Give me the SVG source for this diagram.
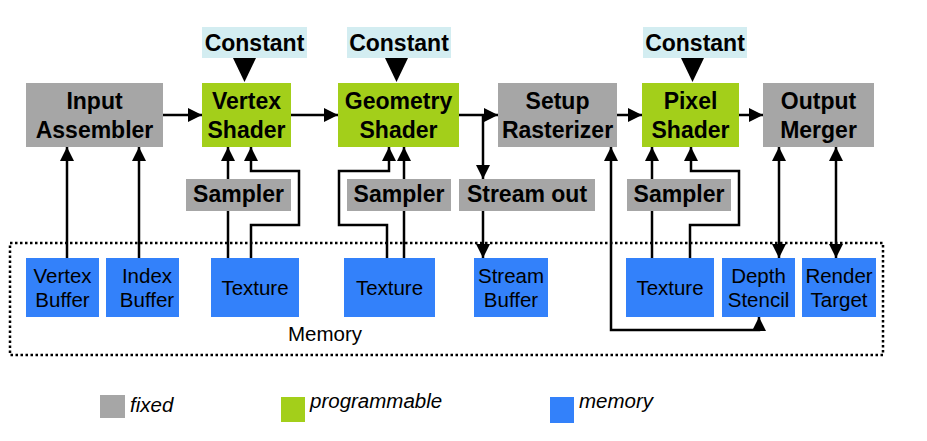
<svg xmlns="http://www.w3.org/2000/svg" width="927" height="441" viewBox="0 0 927 441">
<defs>
<style>
.fx{fill:#a6a6a6}
.pg{fill:#a3cf1a}
.mem{fill:#3381fa}
.cst{fill:#d3edf1}
.b{font-family:"Liberation Sans",Arial,sans-serif;font-weight:bold;font-size:23px;fill:#000;text-anchor:middle}
.m{font-family:"Liberation Sans",Arial,sans-serif;font-size:20.5px;fill:#000;text-anchor:middle}
.lg{font-family:"Liberation Sans",Arial,sans-serif;font-style:italic;font-size:20.5px;fill:#000}
.c{fill:none;stroke:#000;stroke-width:2.5}
.a{marker-end:url(#ah)}
.aa{marker-end:url(#ah);marker-start:url(#ah)}
</style>
<marker id="ah" markerUnits="userSpaceOnUse" markerWidth="14" markerHeight="14" viewBox="0 0 14 14" refX="14" refY="7" orient="auto-start-reverse">
<path d="M0,0 L14,7 L0,14 z" fill="#000"/>
</marker>
</defs>
<rect width="927" height="441" fill="#fff"/>
<g id="memory-region">
<rect x="10" y="243" width="873" height="112" fill="none" stroke="#000" stroke-width="2.5" stroke-dasharray="2.5 2.5"/>
<text class="m" x="325" y="341" font-size="21">Memory</text>
</g>
<g id="connectors">
<path class="c a" d="M163,115 H202"/>
<path class="c a" d="M291,115 H338"/>
<path class="c a" d="M459,115 H498"/>
<path class="c a" d="M483,115 V179"/>
<path class="c a" d="M483,211 V258"/>
<path class="c a" d="M617,115 H642"/>
<path class="c a" d="M739,115 H763"/>
<path class="c a" d="M67,258 V147"/>
<path class="c a" d="M139,258 V147"/>
<path class="c a" d="M228,258 V147"/>
<path class="c a" d="M251,258 V225 H299 V171 H251 V147"/>
<path class="c a" d="M387,258 V225 H339 V171 H389 V147"/>
<path class="c a" d="M404,258 V147"/>
<path class="c a" d="M652,258 V147"/>
<path class="c a" d="M690,258 V225 H739 V171 H691 V147"/>
<path class="c aa" d="M611,147 V330 H759 V317"/>
<path class="c aa" d="M779,147 V258"/>
<path class="c aa" d="M836,147 V258"/>
<polygon points="233,58 256,58 244.5,82" fill="#000"/>
<polygon points="385,58 408,58 396.5,82" fill="#000"/>
<polygon points="681,58 704,58 692.5,82" fill="#000"/>
</g>
<g id="input-assembler">
<rect class="fx" x="26" y="83" width="137" height="64"/>
<text class="b" x="94.5" y="109">Input</text>
<text class="b" x="94.5" y="138">Assembler</text>
</g>
<g id="vertex-shader">
<rect class="pg" x="202" y="83" width="89" height="64"/>
<text class="b" x="246.5" y="109">Vertex</text>
<text class="b" x="246.5" y="138">Shader</text>
</g>
<g id="geometry-shader">
<rect class="pg" x="338" y="83" width="121" height="64"/>
<text class="b" x="398.5" y="109">Geometry</text>
<text class="b" x="398.5" y="138">Shader</text>
</g>
<g id="setup-rasterizer">
<rect class="fx" x="498" y="83" width="119" height="64"/>
<text class="b" x="557.5" y="109">Setup</text>
<text class="b" x="557.5" y="138">Rasterizer</text>
</g>
<g id="pixel-shader">
<rect class="pg" x="642" y="83" width="97" height="64"/>
<text class="b" x="690.5" y="109">Pixel</text>
<text class="b" x="690.5" y="138">Shader</text>
</g>
<g id="output-merger">
<rect class="fx" x="763" y="83" width="111" height="64"/>
<text class="b" x="818.5" y="109">Output</text>
<text class="b" x="818.5" y="138">Merger</text>
</g>
<g id="constant-vs">
<rect class="cst" x="202" y="27" width="105" height="31"/>
<text class="b" x="254.5" y="51">Constant</text>
</g>
<g id="constant-gs">
<rect class="cst" x="347" y="27" width="104" height="31"/>
<text class="b" x="399" y="51">Constant</text>
</g>
<g id="constant-ps">
<rect class="cst" x="643" y="27" width="104" height="31"/>
<text class="b" x="695" y="51">Constant</text>
</g>
<g id="sampler-vs">
<rect class="fx" x="186" y="179" width="105" height="32"/>
<text class="b" x="238.5" y="202">Sampler</text>
</g>
<g id="sampler-gs">
<rect class="fx" x="347" y="179" width="104" height="32"/>
<text class="b" x="399" y="202">Sampler</text>
</g>
<g id="stream-out">
<rect class="fx" x="459" y="179" width="136" height="32"/>
<text class="b" x="527" y="202">Stream out</text>
</g>
<g id="sampler-ps">
<rect class="fx" x="627" y="179" width="104" height="32"/>
<text class="b" x="679" y="202">Sampler</text>
</g>
<g id="vertex-buffer">
<rect class="mem" x="26" y="258" width="73" height="59"/>
<text class="m" x="62.5" y="283">Vertex</text>
<text class="m" x="62.5" y="307">Buffer</text>
</g>
<g id="index-buffer">
<rect class="mem" x="106" y="258" width="73" height="59"/>
<text class="m" x="147" y="283">Index</text>
<text class="m" x="147" y="307">Buffer</text>
</g>
<g id="texture-vs">
<rect class="mem" x="211" y="258" width="88" height="59"/>
<text class="m" x="255" y="295">Texture</text>
</g>
<g id="texture-gs">
<rect class="mem" x="344" y="258" width="91" height="59"/>
<text class="m" x="389.5" y="295">Texture</text>
</g>
<g id="stream-buffer">
<rect class="mem" x="474" y="258" width="74" height="59"/>
<text class="m" x="511" y="283">Stream</text>
<text class="m" x="511" y="307">Buffer</text>
</g>
<g id="texture-ps">
<rect class="mem" x="626" y="258" width="88" height="59"/>
<text class="m" x="670" y="295">Texture</text>
</g>
<g id="depth-stencil">
<rect class="mem" x="722" y="258" width="73" height="59"/>
<text class="m" x="758.5" y="283">Depth</text>
<text class="m" x="758.5" y="307">Stencil</text>
</g>
<g id="render-target">
<rect class="mem" x="802" y="258" width="74" height="59"/>
<text class="m" x="839" y="283">Render</text>
<text class="m" x="839" y="307">Target</text>
</g>
<g id="legend">
<rect class="fx" x="100" y="395" width="25" height="23"/>
<text class="lg" x="130" y="412">fixed</text>
<rect class="pg" x="281" y="397" width="24" height="25"/>
<text class="lg" x="310" y="408">programmable</text>
<rect class="mem" x="550" y="397" width="24" height="26"/>
<text class="lg" x="579" y="408">memory</text>
</g>
</svg>
